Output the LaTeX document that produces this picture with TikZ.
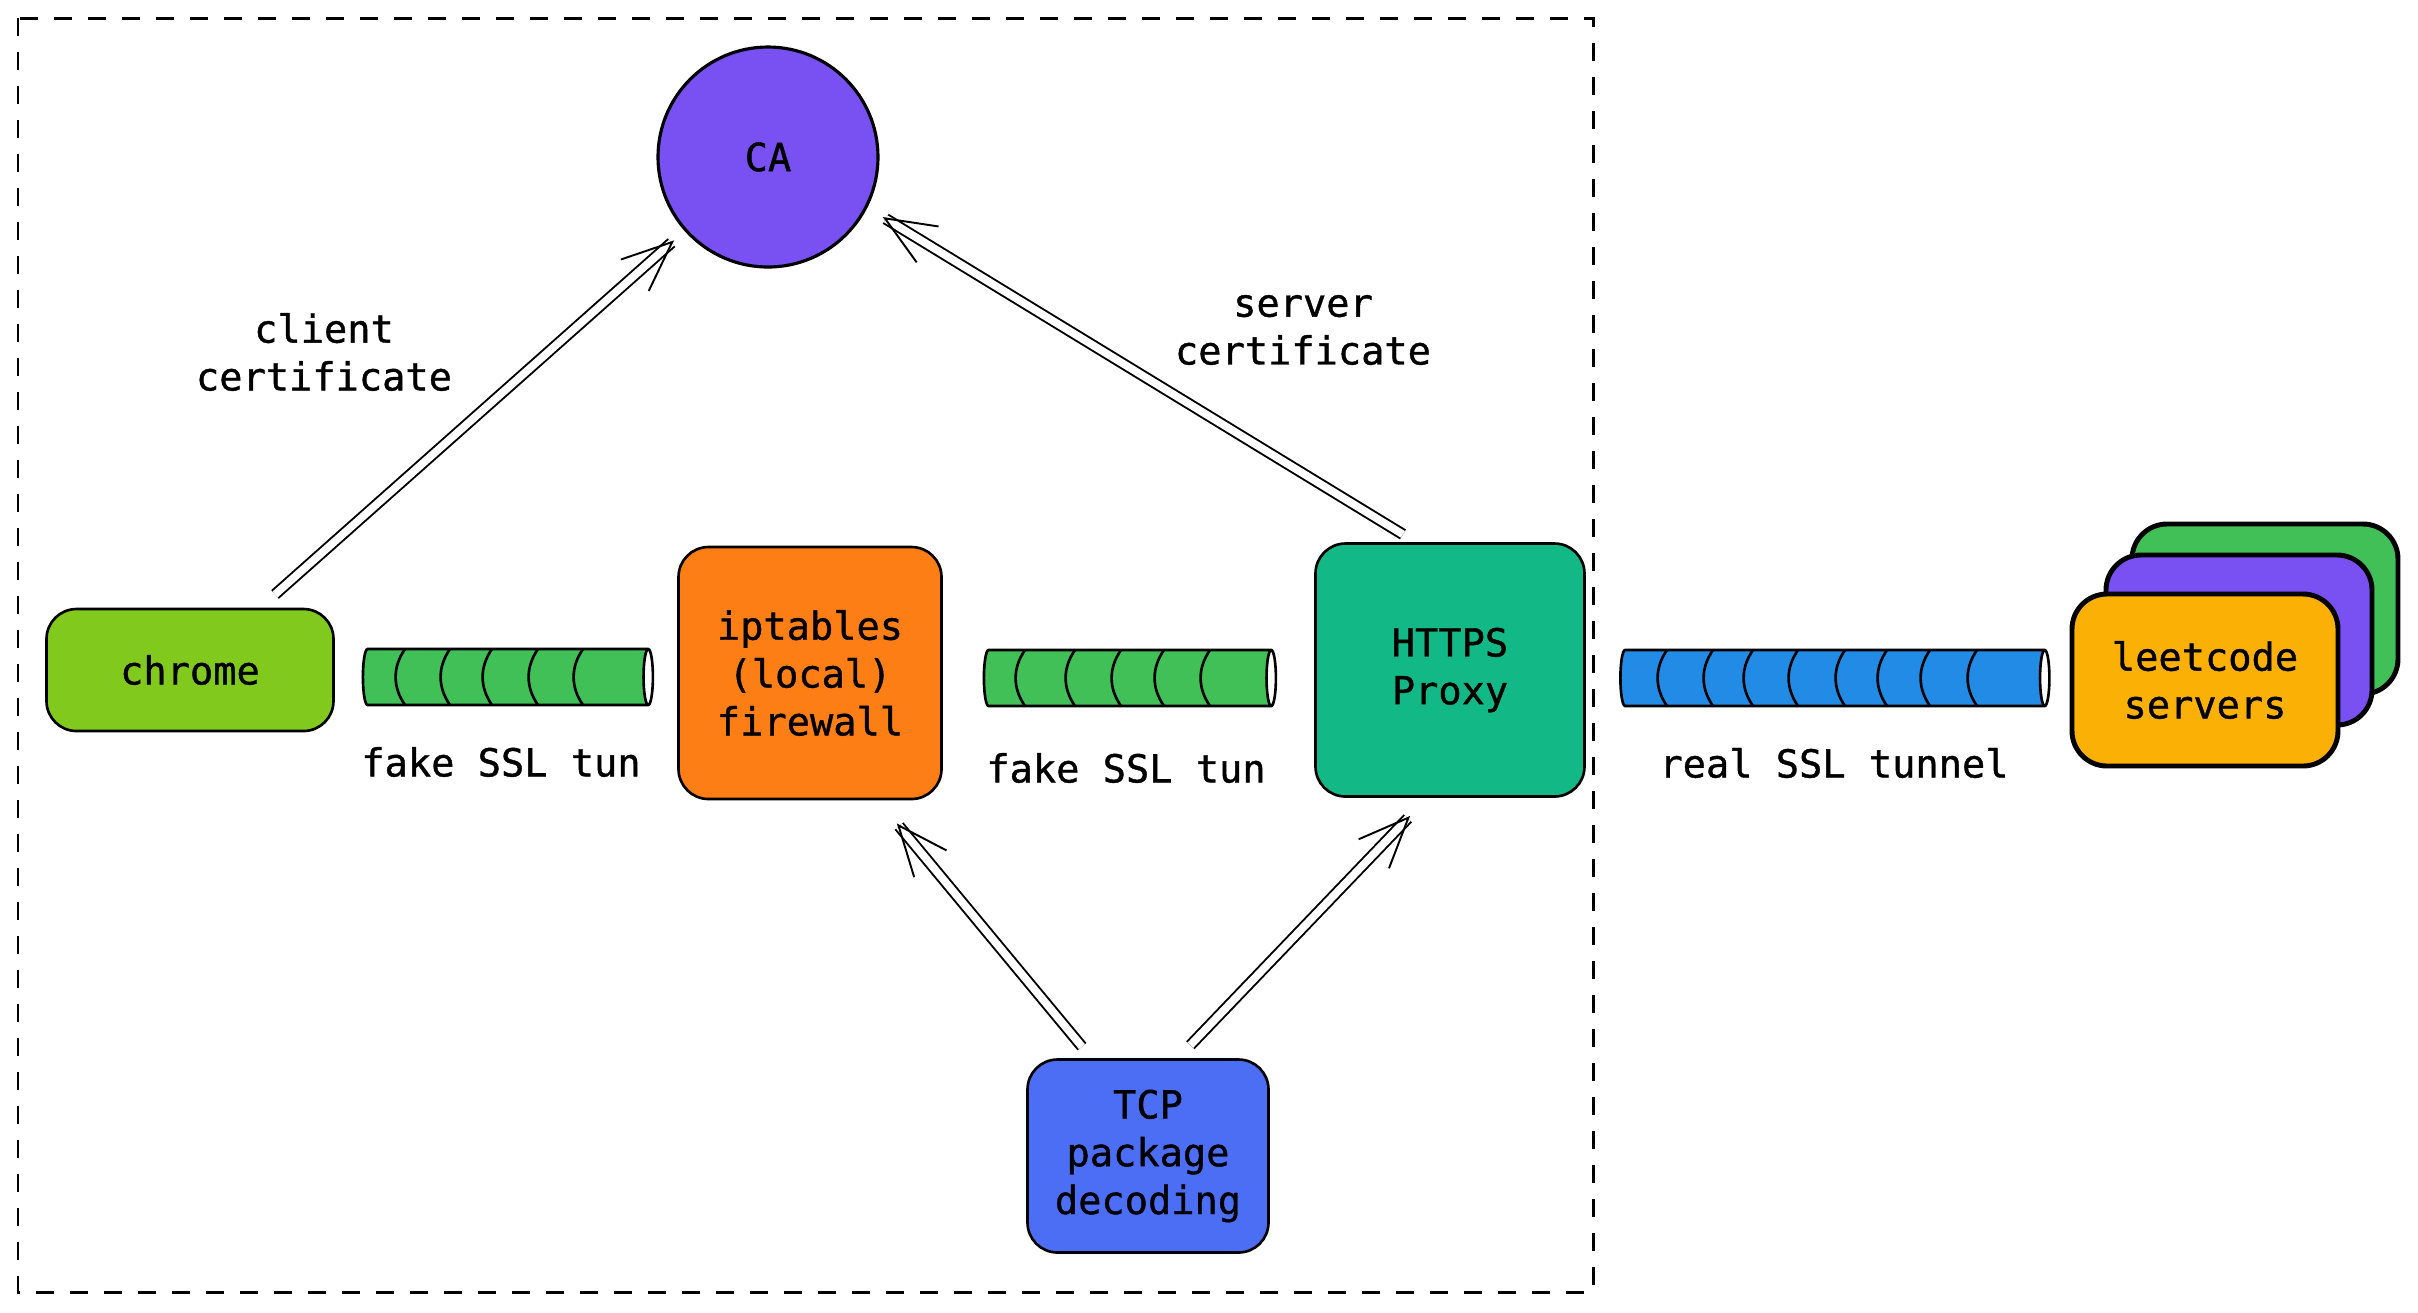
\documentclass[tikz,border=0pt]{standalone}
\usepackage{fontspec}
\setmainfont[FakeBold=1]{DejaVu Sans Mono}
\usepackage{xcolor}
\usepackage{tikz}
\usetikzlibrary{positioning, shapes, arrows.meta, calc}

\definecolor{caviolet}{HTML}{7950F2}
\definecolor{chromelime}{HTML}{82C91E}
\definecolor{tubegreen}{HTML}{40C057}
\definecolor{fworange}{HTML}{FD7E14}
\definecolor{proxyteal}{HTML}{12B886}
\definecolor{tubeblue}{HTML}{228BE6}
\definecolor{tcpindigo}{HTML}{4C6EF5}
\definecolor{srvyellow}{HTML}{FAB005}

\begin{document}
\begin{tikzpicture}[every node/.style={font=\fontsize{11}{13.6}\selectfont, align=center},
    box/.style={draw, line width=0.75pt, rounded corners=0.3cm},
    srvbox/.style={draw, line width=1.4pt, rounded corners=0.35cm, minimum width=2.66cm, minimum height=1.7cm},
    tube/.style={draw, line width=0.75pt, shape=cylinder, shape border rotate=0, aspect=0.4,
      cylinder uses custom fill, cylinder end fill=white, minimum width=0.56cm},
    ring/.style={line width=0.75pt},
    arr/.style={double, double distance=2.2pt, line width=0.55pt, -{Straight Barb[length=0.5cm, width=0.42cm, line width=0.55pt]}}]
          \useasboundingbox (0,0) rectangle (24.18,-13.12);

          \draw[line width=0.85pt, dash pattern=on 0.18cm off 0.16cm] (0.18,-0.18) rectangle (15.93,-12.92);

          \node[draw, circle, line width=0.9pt, fill=caviolet, minimum size=2.2cm] (CA) at (7.68, -1.57) {CA};

          \node[box, fill=chromelime, minimum width=2.87cm, minimum height=1.22cm] (chrome) at (1.90, -6.70) {chrome};

          \node[box, fill=fworange, minimum width=2.63cm, minimum height=2.52cm] (ipt) at (8.10, -6.73) {iptables\\(local)\\firewall};

          \node[box, fill=proxyteal, minimum width=2.69cm, minimum height=2.53cm] (proxy) at (14.50, -6.70) {HTTPS\\Proxy};

          \node[box, fill=tcpindigo, minimum width=2.41cm, minimum height=1.93cm] (tcp) at (11.48, -11.56) {TCP\\package\\decoding};

          % servers stack
          \node[srvbox, fill=tubegreen] (srvback) at (22.65, -6.09) {};
          \node[srvbox, fill=caviolet] (srvmid) at (22.39, -6.40) {};
          \node[srvbox, fill=srvyellow, minimum height=1.72cm] (servers) at (22.05, -6.80) {leetcode\\servers};

          % tunnels
          \node[tube, cylinder body fill=tubegreen, minimum height=2.90cm] (tun1) at (5.03, -6.77) {};
          \draw[ring] (4.05,-6.49) to[bend right=35] (4.05,-7.05) (4.50,-6.49) to[bend right=35] (4.50,-7.05)
                      (4.92,-6.49) to[bend right=35] (4.92,-7.05) (5.38,-6.49) to[bend right=35] (5.38,-7.05)
                      (5.83,-6.49) to[bend right=35] (5.83,-7.05);
          \node (tun1lbl) at (5.01, -7.62) {fake SSL tun};

          \node[tube, cylinder body fill=tubegreen, minimum height=2.92cm] (tun2) at (11.25, -6.78) {};
          \draw[ring] (10.25,-6.50) to[bend right=35] (10.25,-7.06) (10.75,-6.50) to[bend right=35] (10.75,-7.06)
                      (11.21,-6.50) to[bend right=35] (11.21,-7.06) (11.64,-6.50) to[bend right=35] (11.64,-7.06)
                      (12.10,-6.50) to[bend right=35] (12.10,-7.06);
          \node (tun2lbl) at (11.26, -7.68) {fake SSL tun};

          \node[tube, cylinder body fill=tubeblue, minimum height=4.29cm] (tun3) at (18.30, -6.78) {};
          \draw[ring] (16.67,-6.50) to[bend right=35] (16.67,-7.06) (17.13,-6.50) to[bend right=35] (17.13,-7.06)
                      (17.53,-6.50) to[bend right=35] (17.53,-7.06) (17.98,-6.50) to[bend right=35] (17.98,-7.06)
                      (18.45,-6.50) to[bend right=35] (18.45,-7.06) (18.87,-6.50) to[bend right=35] (18.87,-7.06)
                      (19.30,-6.50) to[bend right=35] (19.30,-7.06) (19.77,-6.50) to[bend right=35] (19.77,-7.06);
          \node (tun3lbl) at (18.34, -7.63) {real SSL tunnel};

          \node (clientcert) at (3.24, -3.52) {client\\certificate};
          \node (servercert) at (13.03, -3.30) {server\\certificate};

          \draw[arr, shorten <=0.2cm, shorten >=0.14cm] (chrome) -- (CA);
          \draw[arr, shorten <=0.15cm, shorten >=0.18cm] (proxy.105) -- (CA.-27);
          \draw[arr, shorten <=0.15cm, shorten >=0.3cm] (tcp.120) -- (ipt.-62);
          \draw[arr, shorten <=0.18cm, shorten >=0.25cm] (tcp.73) -- (proxy.-100);
        \end{tikzpicture}
\end{document}
